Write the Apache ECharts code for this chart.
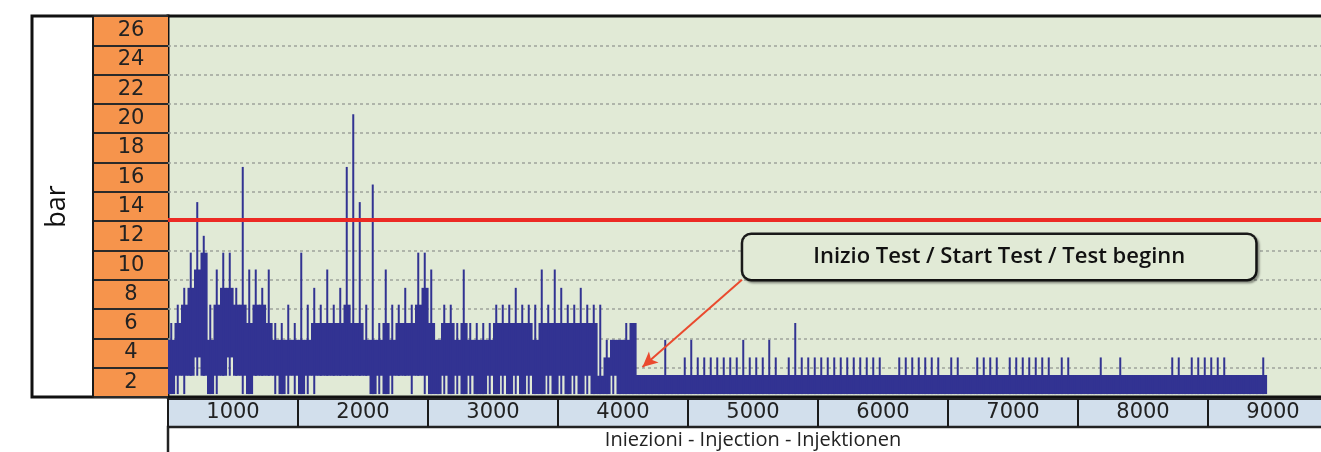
<!DOCTYPE html>
<html>
<head>
<meta charset="utf-8">
<script src="https://cdn.jsdelivr.net/npm/echarts@6/dist/echarts.min.js"></script>
<style>
html,body{margin:0;padding:0;background:#ffffff;}
#chart{width:1321px;height:452px;}
</style>
</head>
<body>
<div id="chart"></div>
<script>
// ---- data ----
const BIN = 50; // injections per bin
// lowest dip reached in each bin (bar)
const dipLow = [
0.2,0.2,0.2,1.45,1.45,1.45,0.2,0.2,1.45,1.45,1.45,0.2,0.2,1.45,1.45,1.45,0.2,0.2,0.2,0.2,
0.2,0.2,0.2,1.45,1.45,1.45,1.45,1.45,1.45,1.45,1.45,0.2,0.2,0.2,0.2,1.45,1.45,0.2,1.45,0.2,
0.2,0.2,0.2,0.2,0.2,0.2,0.2,0.2,0.2,0.2,0.2,0.2,0.2,0.2,0.2,0.2,0.2,0.2,0.2,0.2,
0.2,0.2,0.2,0.2,0.2,0.2,0.2,0.2,0.2,0.2,0.2,0.2,
0.2,0.2,0.2,0.2,0.2,0.2,0.2,0.2,0.2,0.2,0.2,0.2,0.2,0.2,0.2,0.2,0.2,0.2,0.2,0.2,
0.2,0.2,0.2,0.2,0.2,0.2,0.2,0.2,0.2,0.2,0.2,0.2,0.2,0.2,0.2,0.2,0.2,0.2,0.2,0.2,
0.2,0.2,0.2,0.2,0.2,0.2,0.2,0.2,0.2,0.2,0.2,0.2,0.2,0.2,0.2,0.2,0.2,0.2,0.2,0.2,
0.2,0.2,0.2,0.2,0.2,0.2,0.2,0.2,0.2,0.2,0.2,0.2,0.2,0.2,0.2,0.2,0.2,0.2,0.2,0.2,
0.2,0.2,0.2,0.2,0.2,0.2,0.2,0.2,0.2,0.2,0.2,0.2,0.2,0.2,0.2,0.2,0.2
];
// bottom of the dense band in each bin (bar)
const coreLow = [
0.2,1.45,1.45,1.45,2.7,1.45,0.2,1.45,1.45,2.7,1.45,1.45,0.2,1.45,1.45,1.45,1.45,0.2,1.45,1.45,
0.2,1.45,1.45,1.45,1.45,1.45,1.45,1.45,1.45,1.45,1.45,0.2,1.45,0.2,1.45,1.45,1.45,1.45,1.45,1.45,
0.2,0.2,1.45,0.2,1.45,0.2,1.45,0.2,0.2,1.45,0.2,1.45,0.2,1.45,0.2,1.45,0.2,0.2,1.45,0.2,
1.45,0.2,1.45,0.2,1.45,0.2,0.2,0.2,1.45,0.2,0.2,0.2,
0.2,0.2,0.2,0.2,0.2,0.2,0.2,0.2,0.2,0.2,0.2,0.2,0.2,0.2,0.2,0.2,0.2,0.2,0.2,0.2,
0.2,0.2,0.2,0.2,0.2,0.2,0.2,0.2,0.2,0.2,0.2,0.2,0.2,0.2,0.2,0.2,0.2,0.2,0.2,0.2,
0.2,0.2,0.2,0.2,0.2,0.2,0.2,0.2,0.2,0.2,0.2,0.2,0.2,0.2,0.2,0.2,0.2,0.2,0.2,0.2,
0.2,0.2,0.2,0.2,0.2,0.2,0.2,0.2,0.2,0.2,0.2,0.2,0.2,0.2,0.2,0.2,0.2,0.2,0.2,0.2,
0.2,0.2,0.2,0.2,0.2,0.2,0.2,0.2,0.2,0.2,0.2,0.2,0.2,0.2,0.2,0.2,0.2
];
// top of the dense band in each bin (bar)
const coreHigh = [
3.9,5.05,6.3,7.45,8.7,9.85,3.9,6.3,7.45,7.45,6.3,6.3,5.05,6.3,6.3,5.05,3.9,3.9,3.9,3.9,
3.9,3.9,5.05,5.05,5.05,5.05,5.05,6.3,5.05,5.05,3.9,3.9,3.9,5.05,3.9,5.05,5.05,5.05,6.3,7.45,
5.05,3.9,5.05,5.05,3.9,5.05,3.9,3.9,3.9,3.9,5.05,5.05,5.05,5.05,5.05,5.05,3.9,5.05,5.05,5.05,
5.05,5.05,5.05,5.05,5.05,5.05,1.45,2.7,3.9,3.9,3.9,5.05,
1.5,1.5,1.5,1.5,1.5,1.5,1.5,1.5,1.5,1.5,1.5,1.5,1.5,1.5,1.5,1.5,1.5,1.5,1.5,1.5,
1.5,1.5,1.5,1.5,1.5,1.5,1.5,1.5,1.5,1.5,1.5,1.5,1.5,1.5,1.5,1.5,1.5,1.5,1.5,1.5,
1.5,1.5,1.5,1.5,1.5,1.5,1.5,1.5,1.5,1.5,1.5,1.5,1.5,1.5,1.5,1.5,1.5,1.5,1.5,1.5,
1.5,1.5,1.5,1.5,1.5,1.5,1.5,1.5,1.5,1.5,1.5,1.5,1.5,1.5,1.5,1.5,1.5,1.5,1.5,1.5,
1.5,1.5,1.5,1.5,1.5,1.5,1.5,1.5,1.5,1.5,1.5,1.5,1.5,1.5,1.5,1.5,1.5
];
// highest spike in each bin (bar)
const peakHigh = [
5.05,6.3,7.45,9.85,13.3,11.0,6.3,8.7,9.85,9.85,7.45,15.7,8.7,8.7,7.45,8.7,5.05,5.05,6.3,5.05,
9.85,6.3,7.45,6.3,8.7,6.3,7.45,15.7,19.3,13.3,6.3,14.5,5.05,8.7,6.3,6.3,7.45,6.3,9.85,9.85,
8.7,3.9,6.3,6.3,5.05,8.7,5.05,5.05,5.05,5.05,6.3,6.3,6.3,7.45,6.3,6.3,6.3,8.7,6.3,8.7,
7.45,6.3,6.3,7.45,6.3,6.3,6.3,3.9,3.9,3.9,5.05,5.05,
1.5,1.5,1.5,1.5,3.9,1.5,1.5,2.7,3.9,2.7,2.7,2.7,2.7,2.7,2.7,2.7,3.9,2.7,2.7,2.7,
3.9,2.7,1.5,2.7,5.05,2.7,2.7,2.7,2.7,2.7,2.7,2.7,2.7,2.7,2.7,2.7,2.7,2.7,1.5,1.5,
2.7,2.7,2.7,2.7,2.7,2.7,2.7,1.5,2.7,2.7,1.5,1.5,2.7,2.7,2.7,2.7,1.5,2.7,2.7,2.7,
2.7,2.7,2.7,2.7,1.5,2.7,2.7,1.5,1.5,1.5,1.5,2.7,1.5,1.5,2.7,1.5,1.5,1.5,1.5,1.5,
1.5,1.5,2.7,2.7,1.5,2.7,2.7,2.7,2.7,2.7,2.7,1.5,1.5,1.5,1.5,1.5,2.7
];
const yTickLabels = ['2','4','6','8','10','12','14','16','18','20','22','24','26'];
const xTickLabels = ['1000','2000','3000','4000','5000','6000','7000','8000','9000'];
const yMax = 26, xMax = 9000;
const limitValue = 12.1;
const noteText = 'Inizio Test / Start Test / Test beginn';
const noteAt = [6394, 9.56];
const arrowFrom = [4415, 8.0];
const arrowTo = [3650, 2.05];
const yName = 'bar';
const xName = 'Iniezioni - Injection - Injektionen';

// ---- styles ----
const BLUE = '#323392';
const PLOT_BG = '#e1ead6';
const ORANGE = '#f6944c';
const XBOX = '#d2dfec';
const DIGIT_FONT = 'DejaVu Sans';
const TEXT_FONT = 'Open Sans';
const PLOT_W = 1170;

const items = coreHigh.map((h, i) => [i * BIN, dipLow[i], coreLow[i], h, peakHigh[i]]);

function hiddenAxis(gridIndex, type) {
  return {gridIndex: gridIndex, type: type || 'value', show: false};
}
function gridBox(extra) {
  return Object.assign({containLabel: false, outerBoundsMode: 'none'}, extra);
}

const chart = echarts.init(document.getElementById('chart'), null, {renderer: 'canvas'});

const option = {
  animation: false,
  backgroundColor: '#ffffff',
  grid: [
    // 0: white label panel on the left
    gridBox({left: 32, top: 16, width: 136, height: 381, show: true, backgroundColor: '#ffffff', borderColor: '#111111', borderWidth: 3}),
    // 1: orange tick column
    gridBox({left: 93, top: 16, width: 75, height: 381, show: false}),
    // 2: main plot
    gridBox({left: 168, top: 16, width: PLOT_W, height: 381, show: true, backgroundColor: PLOT_BG, borderColor: '#111111', borderWidth: 3}),
    // 3: blue x tick boxes
    gridBox({left: 168, top: 399, width: PLOT_W, height: 28, show: true, backgroundColor: XBOX, borderColor: '#222222', borderWidth: 2}),
    // 4: frame below boxes
    gridBox({left: 168, top: 427, width: PLOT_W, height: 60, show: true, backgroundColor: 'transparent', borderColor: '#222222', borderWidth: 2.5})
  ],
  xAxis: [
    hiddenAxis(0),
    hiddenAxis(1),
    {gridIndex: 2, type: 'value', min: 0, max: xMax, show: false},
    {
      gridIndex: 3, type: 'category', data: xTickLabels, boundaryGap: true, position: 'bottom',
      axisLine: {show: false}, axisTick: {show: false},
      axisLabel: {show: true, inside: true, interval: 0, margin: 14, verticalAlign: 'middle', fontFamily: DIGIT_FONT, fontSize: 21, color: '#222222'},
      splitLine: {show: true, interval: 0, lineStyle: {color: '#1a1a1a', width: 2}},
      splitArea: {show: false},
      name: xName, nameLocation: 'middle', nameGap: 3,
      nameTextStyle: {fontFamily: TEXT_FONT, fontSize: 20, color: '#222222', verticalAlign: 'top'}
    },
    hiddenAxis(4)
  ],
  yAxis: [
    hiddenAxis(0),
    {
      gridIndex: 1, type: 'category', data: yTickLabels, boundaryGap: true, position: 'left',
      axisLine: {show: true, lineStyle: {color: '#1a1a1a', width: 2}}, axisTick: {show: false},
      axisLabel: {show: true, inside: true, interval: 0, margin: 38, align: 'center', fontFamily: DIGIT_FONT, fontSize: 21, color: '#222222'},
      splitLine: {show: true, interval: 0, lineStyle: {color: '#2a2a2a', width: 2}},
      splitArea: {show: true, interval: 0, areaStyle: {color: [ORANGE]}},
      name: yName, nameLocation: 'middle', nameGap: 22, nameRotate: 90,
      nameTextStyle: {fontFamily: TEXT_FONT, fontSize: 27, color: '#111111'}
    },
    {
      gridIndex: 2, type: 'value', min: 0, max: yMax, interval: 2,
      axisLine: {show: false}, axisTick: {show: false}, axisLabel: {show: false},
      splitLine: {show: true, showMinLine: false, showMaxLine: false, lineStyle: {color: '#9ea49c', width: 1.5, type: [3, 3]}}
    },
    hiddenAxis(3),
    hiddenAxis(4)
  ],
  series: [
    {
      type: 'custom',
      xAxisIndex: 2, yAxisIndex: 2,
      clip: true,
      data: items,
      encode: {x: 0, y: [1, 2, 3, 4]},
      renderItem: function (params, api) {
        const x0 = api.value(0);
        const lo = api.value(1), cl = api.value(2), ch = api.value(3), pk = api.value(4);
        const a = api.coord([x0, ch]);
        const b = api.coord([x0 + BIN, cl]);
        const m1 = api.coord([x0 + BIN / 2, lo]);
        const m2 = api.coord([x0 + BIN / 2, pk]);
        return {
          type: 'group',
          children: [
            {type: 'rect', shape: {x: a[0], y: a[1], width: b[0] - a[0] + 0.6, height: b[1] - a[1]}, style: {fill: BLUE}},
            {type: 'line', shape: {x1: m1[0], y1: m1[1], x2: m2[0], y2: m2[1]}, style: {stroke: BLUE, lineWidth: 2}}
          ]
        };
      },
      z: 3
    },
    {
      type: 'line',
      xAxisIndex: 2, yAxisIndex: 2,
      data: [],
      silent: true,
      z: 4,
      markLine: {
        silent: true,
        animation: false,
        label: {show: false},
        data: [
          [{coord: [0, limitValue], symbol: 'none'}, {coord: [xMax, limitValue], symbol: 'none'}],
          [{coord: arrowFrom, symbol: 'none', lineStyle: {color: '#ea4a2e', width: 2, type: 'solid'}},
           {coord: arrowTo, symbol: 'arrow', symbolSize: [11, 15], lineStyle: {color: '#ea4a2e', width: 2, type: 'solid'}}]
        ],
        lineStyle: {color: '#ec2a24', width: 4, type: 'solid'}
      },
      markPoint: {
        silent: true,
        symbol: 'rect',
        symbolSize: 0,
        data: [{coord: noteAt, value: noteText}],
        label: {
          show: true, position: 'inside', formatter: noteText,
          width: 512, height: 44, lineHeight: 44, padding: 0,
          align: 'center', verticalAlign: 'middle',
          backgroundColor: PLOT_BG, borderColor: '#1a1a1a', borderWidth: 2.5, borderRadius: 8,
          shadowColor: 'rgba(0,0,0,0.35)', shadowBlur: 2, shadowOffsetX: 2, shadowOffsetY: 2,
          fontFamily: TEXT_FONT, fontSize: 22, fontWeight: 600, color: '#111111'
        }
      }
    }
  ]
};
chart.setOption(option);
</script>
</body>
</html>
